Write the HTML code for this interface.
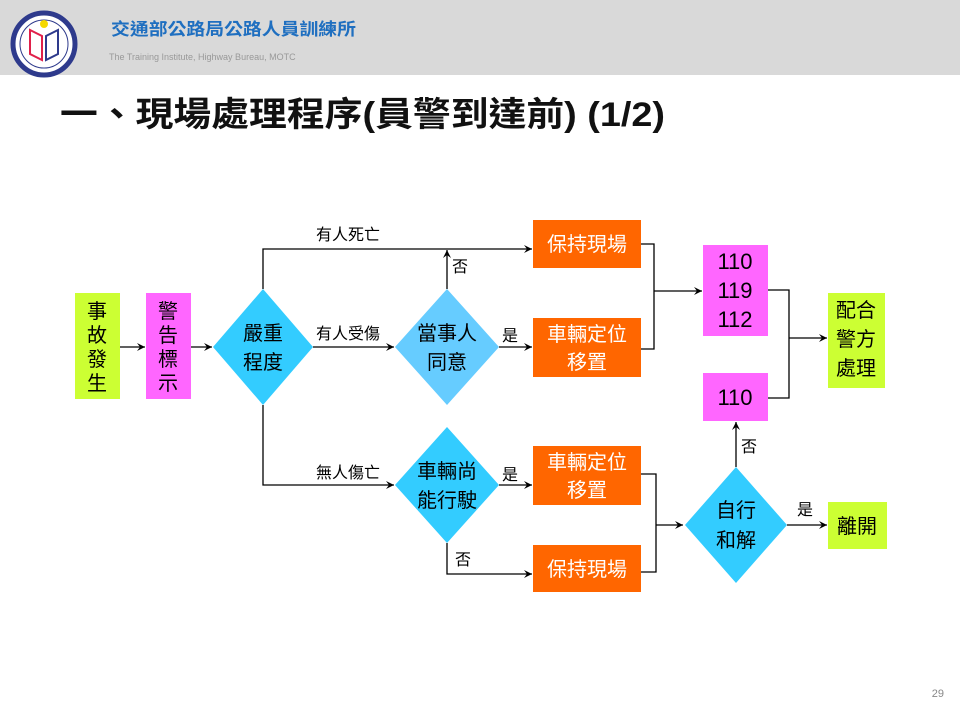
<!DOCTYPE html>
<html><head><meta charset="utf-8"><style>
html,body{margin:0;padding:0;background:#fff;}
svg{display:block;}
text{font-family:"Liberation Sans","Noto Sans CJK TC",sans-serif;}
</style></head><body>
<svg width="960" height="720" viewBox="0 0 960 720" xmlns="http://www.w3.org/2000/svg">
<defs>
<marker id="a" markerWidth="10" markerHeight="10" refX="9" refY="5" orient="auto" markerUnits="userSpaceOnUse">
<path d="M1,1 L9,5 L1,9 L4,5 Z" fill="#000"/></marker>
</defs>
<rect x="0" y="0" width="960" height="75" fill="#d9d9d9"/>
<circle cx="44" cy="44" r="31" fill="#fff" stroke="#2e3a8c" stroke-width="5"/>
<circle cx="44" cy="44" r="24" fill="#fff" stroke="#2e3a8c" stroke-width="1"/>
<circle cx="44" cy="24" r="4" fill="#f5d800"/>
<path d="M30,30 L42,36 L42,60 L30,54 Z" fill="none" stroke="#e0204a" stroke-width="2"/>
<path d="M58,30 L46,36 L46,60 L58,54 Z" fill="none" stroke="#2e3a8c" stroke-width="2"/>
<text x="111" y="35" font-size="17" fill="#1f6fc0" font-weight="bold" textLength="245" lengthAdjust="spacingAndGlyphs">交通部公路局公路人員訓練所</text>
<text x="109" y="60" font-size="9" fill="#999">The Training Institute,  Highway Bureau, MOTC</text>
<text x="60" y="126" font-size="34" font-weight="bold" fill="#111" textLength="605" lengthAdjust="spacingAndGlyphs">一、現場處理程序(員警到達前) (1/2)</text>

<g stroke="#000" stroke-width="1.3" fill="none">
<line x1="120" y1="347" x2="145" y2="347" marker-end="url(#a)"/>
<line x1="191" y1="347" x2="212" y2="347" marker-end="url(#a)"/>
<polyline points="263,289 263,249 532,249" marker-end="url(#a)"/>
<line x1="313" y1="347" x2="394" y2="347" marker-end="url(#a)"/>
<line x1="447" y1="289" x2="447" y2="250" marker-end="url(#a)"/>
<line x1="499" y1="347" x2="532" y2="347" marker-end="url(#a)"/>
<polyline points="263,405 263,485 394,485" marker-end="url(#a)"/>
<line x1="499" y1="485" x2="532" y2="485" marker-end="url(#a)"/>
<polyline points="447,543 447,574 532,574" marker-end="url(#a)"/>
<polyline points="641,244 654,244 654,349 641,349"/>
<line x1="654" y1="291" x2="702" y2="291" marker-end="url(#a)"/>
<polyline points="641,474 656,474 656,572 641,572"/>
<line x1="656" y1="525" x2="683" y2="525" marker-end="url(#a)"/>
<line x1="736" y1="467" x2="736" y2="422" marker-end="url(#a)"/>
<line x1="787" y1="525" x2="827" y2="525" marker-end="url(#a)"/>
<polyline points="768,290 789,290 789,398 767,398"/>
<line x1="789" y1="338" x2="827" y2="338" marker-end="url(#a)"/>
</g>

<rect x="75" y="293" width="45" height="106" fill="#ccff33"/>
<rect x="146" y="293" width="45" height="106" fill="#ff66ff"/>
<g font-size="20" fill="#000" text-anchor="middle">
<text x="97" y="318">事</text><text x="97" y="342">故</text><text x="97" y="366">發</text><text x="97" y="390">生</text>
<text x="168" y="318">警</text><text x="168" y="342">告</text><text x="168" y="366">標</text><text x="168" y="390">示</text>
</g>
<polygon points="263,289 313,347 263,405 213,347" fill="#33ccff"/>
<polygon points="447,289 499,347 447,405 395,347" fill="#66ccff"/>
<polygon points="447,427 499,485 447,543 395,485" fill="#33ccff"/>
<polygon points="736,467 787,525 736,583 685,525" fill="#33ccff"/>
<rect x="533" y="220" width="108" height="48" fill="#ff6600"/>
<rect x="533" y="318" width="108" height="59" fill="#ff6600"/>
<rect x="533" y="446" width="108" height="59" fill="#ff6600"/>
<rect x="533" y="545" width="108" height="47" fill="#ff6600"/>
<rect x="703" y="245" width="65" height="91" fill="#ff66ff"/>
<rect x="703" y="373" width="65" height="48" fill="#ff66ff"/>
<rect x="828" y="293" width="57" height="95" fill="#ccff33"/>
<rect x="828" y="502" width="59" height="47" fill="#ccff33"/>

<g font-size="20" text-anchor="middle" fill="#000">
<text x="263" y="340">嚴重</text><text x="263" y="369">程度</text>
<text x="447" y="340">當事人</text><text x="447" y="369">同意</text>
<text x="447" y="478">車輛尚</text><text x="447" y="507">能行駛</text>
<text x="736" y="517">自行</text><text x="736" y="547">和解</text>
</g>
<g font-size="20" text-anchor="middle" fill="#fff">
<text x="587" y="251">保持現場</text>
<text x="587" y="341">車輛定位</text><text x="587" y="369">移置</text>
<text x="587" y="469">車輛定位</text><text x="587" y="497">移置</text>
<text x="587" y="576">保持現場</text>
</g>
<g font-size="22" text-anchor="middle" fill="#000">
<text x="735" y="269">110</text><text x="735" y="298">119</text><text x="735" y="327">112</text>
<text x="735" y="405">110</text>
</g>
<g font-size="20" text-anchor="middle" fill="#000">
<text x="856" y="317">配合</text><text x="856" y="346">警方</text><text x="856" y="375">處理</text>
<text x="857" y="533">離開</text>
</g>
<g font-size="16" fill="#000">
<text x="316" y="240">有人死亡</text>
<text x="316" y="339">有人受傷</text>
<text x="316" y="478">無人傷亡</text>
<text x="452" y="272">否</text>
<text x="502" y="341">是</text>
<text x="502" y="480">是</text>
<text x="455" y="565">否</text>
<text x="741" y="452">否</text>
<text x="797" y="515">是</text>
</g>
<text x="944" y="697" font-size="11" fill="#888" text-anchor="end">29</text>
</svg>
</body></html>
